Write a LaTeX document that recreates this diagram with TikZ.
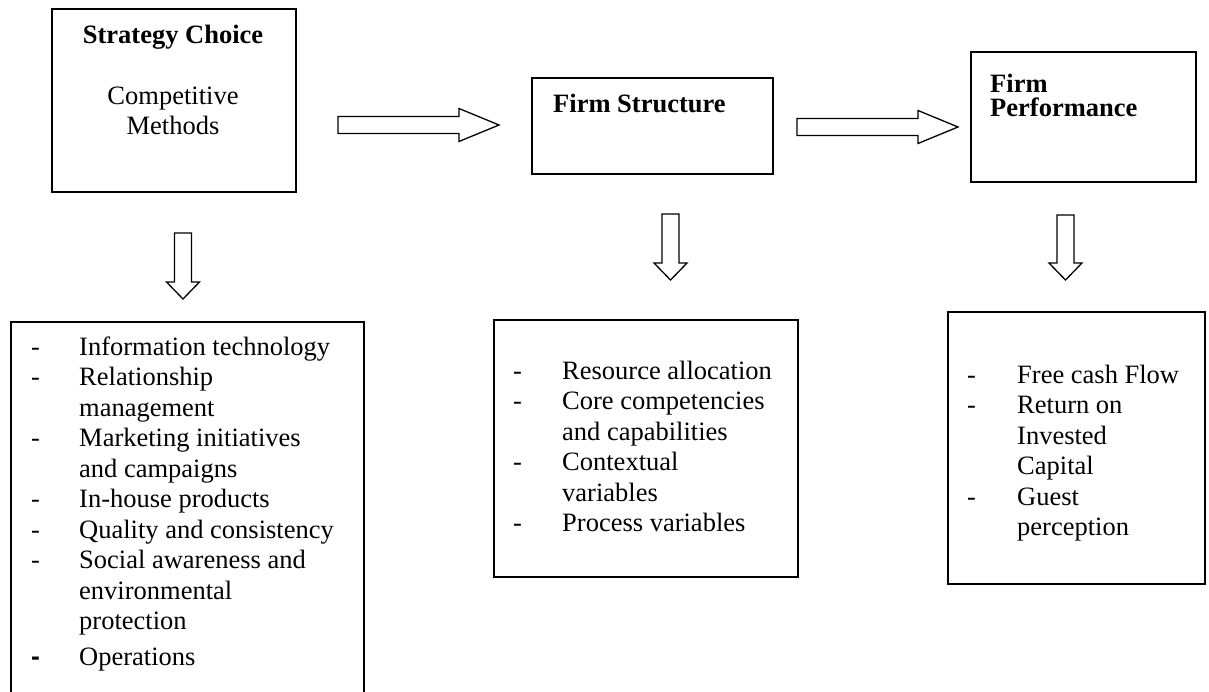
\documentclass[tikz,border=0pt]{standalone}
\usepackage{fontspec}
\setmainfont{Liberation Serif}
\newfontfamily\sansdash{Liberation Sans}
\usetikzlibrary{calc}

\tikzset{
  box/.style={draw, line width=1.6pt, rectangle, inner sep=0pt},
  blk/.style={draw, line width=1.3pt, line join=miter, fill=white},
  txt/.style={inner sep=0pt, font=\fontsize{26.5}{30.5}\selectfont},
  ttl/.style={inner sep=0pt, font=\fontsize{26.5}{30.5}\selectfont\bfseries},
}

% horizontal block arrow: tail centre #1, tip #2
\newcommand\harrow[2]{%
  \draw[blk] ($(#1)+(0,-8.5)$) -- ($(#2)+(-40,-8.5)$) -- ($(#2)+(-40,-16.5)$)
    -- (#2) -- ($(#2)+(-40,16.5)$) -- ($(#2)+(-40,8.5)$) -- ($(#1)+(0,8.5)$) -- cycle;}
% downward block arrow: tail centre #1, tip #2
\newcommand\varrow[2]{%
  \draw[blk] ($(#1)+(-8.5,0)$) -- ($(#2)+(-8.5,-17)$) -- ($(#2)+(-16.5,-17)$)
    -- (#2) -- ($(#2)+(16.5,-17)$) -- ($(#2)+(8.5,-17)$) -- ($(#1)+(8.5,0)$) -- cycle;}

\begin{document}
\begin{tikzpicture}[x=1pt, y=-1pt]
  \useasboundingbox (0,0) rectangle (1209,692);
  \fill[white] (0,0) rectangle (1209,692);
  \clip (0,0) rectangle (1209,692);

  % top row of boxes
  \node[box, anchor=north west, minimum width=244pt, minimum height=183pt] (sc) at (51,8) {};
  \node[box, anchor=north west, minimum width=241pt, minimum height=96pt] (fs) at (531,77) {};
  \node[box, anchor=north west, minimum width=225pt, minimum height=130pt] (fp) at (970,51) {};

  \node[ttl, anchor=base] (sct) at (173,44) {Strategy Choice};
  \node[txt, anchor=base] (sc1) at (173,105) {Competitive};
  \node[txt, anchor=base] (sc2) at (173,135) {Methods};
  \node[ttl, anchor=base west] (fst) at (553,113) {Firm Structure};
  \node[ttl, anchor=base west] (fpt1) at (990,93) {Firm};
  \node[ttl, anchor=base west] (fpt2) at (990,117) {Performance};

  % bottom row of boxes
  \node[box, anchor=north west, minimum width=353pt, minimum height=420pt] (l1) at (10,321) {};
  \node[box, anchor=north west, minimum width=304pt, minimum height=257pt] (l2) at (493,319) {};
  \node[box, anchor=north west, minimum width=257pt, minimum height=272pt] (l3) at (947,311) {};

  \node[txt, anchor=base west] (l1t) at (31,355) {\begin{tabular}[t]{@{}p{48pt}@{}l@{}}
    - & Information technology\\
    - & Relationship\\
      & management\\
    - & Marketing initiatives\\
      & and campaigns\\
    - & In-house products\\
    - & Quality and consistency\\
    - & Social awareness and\\
      & environmental\\
      & protection\\[5.5pt]
    {\sansdash\bfseries -} & Operations
  \end{tabular}};

  \node[txt, anchor=base west] (l2t) at (513,379) {\begin{tabular}[t]{@{}p{49pt}@{}l@{}}
    - & Resource allocation\\
    - & Core competencies\\
      & and capabilities\\
    - & Contextual\\
      & variables\\
    - & Process variables
  \end{tabular}};

  \node[txt, anchor=base west] (l3t) at (967,383) {\begin{tabular}[t]{@{}p{50pt}@{}l@{}}
    - & Free cash Flow\\
    - & Return on\\
      & Invested\\
      & Capital\\
    - & Guest\\
      & perception
  \end{tabular}};

  % arrow end points
  \coordinate (a1s) at (338,125);
  \coordinate (a1e) at (499,125);
  \coordinate (a2s) at (797,127);
  \coordinate (a2e) at (958,127);
  \coordinate (d1s) at (183,233);
  \coordinate (d1e) at (183,299);
  \coordinate (d2s) at (670.5,214);
  \coordinate (d2e) at (670.5,280);
  \coordinate (d3s) at (1065.5,215);
  \coordinate (d3e) at (1065.5,280);

  \harrow{a1s}{a1e}
  \harrow{a2s}{a2e}
  \varrow{d1s}{d1e}
  \varrow{d2s}{d2e}
  \varrow{d3s}{d3e}
\end{tikzpicture}
\end{document}
